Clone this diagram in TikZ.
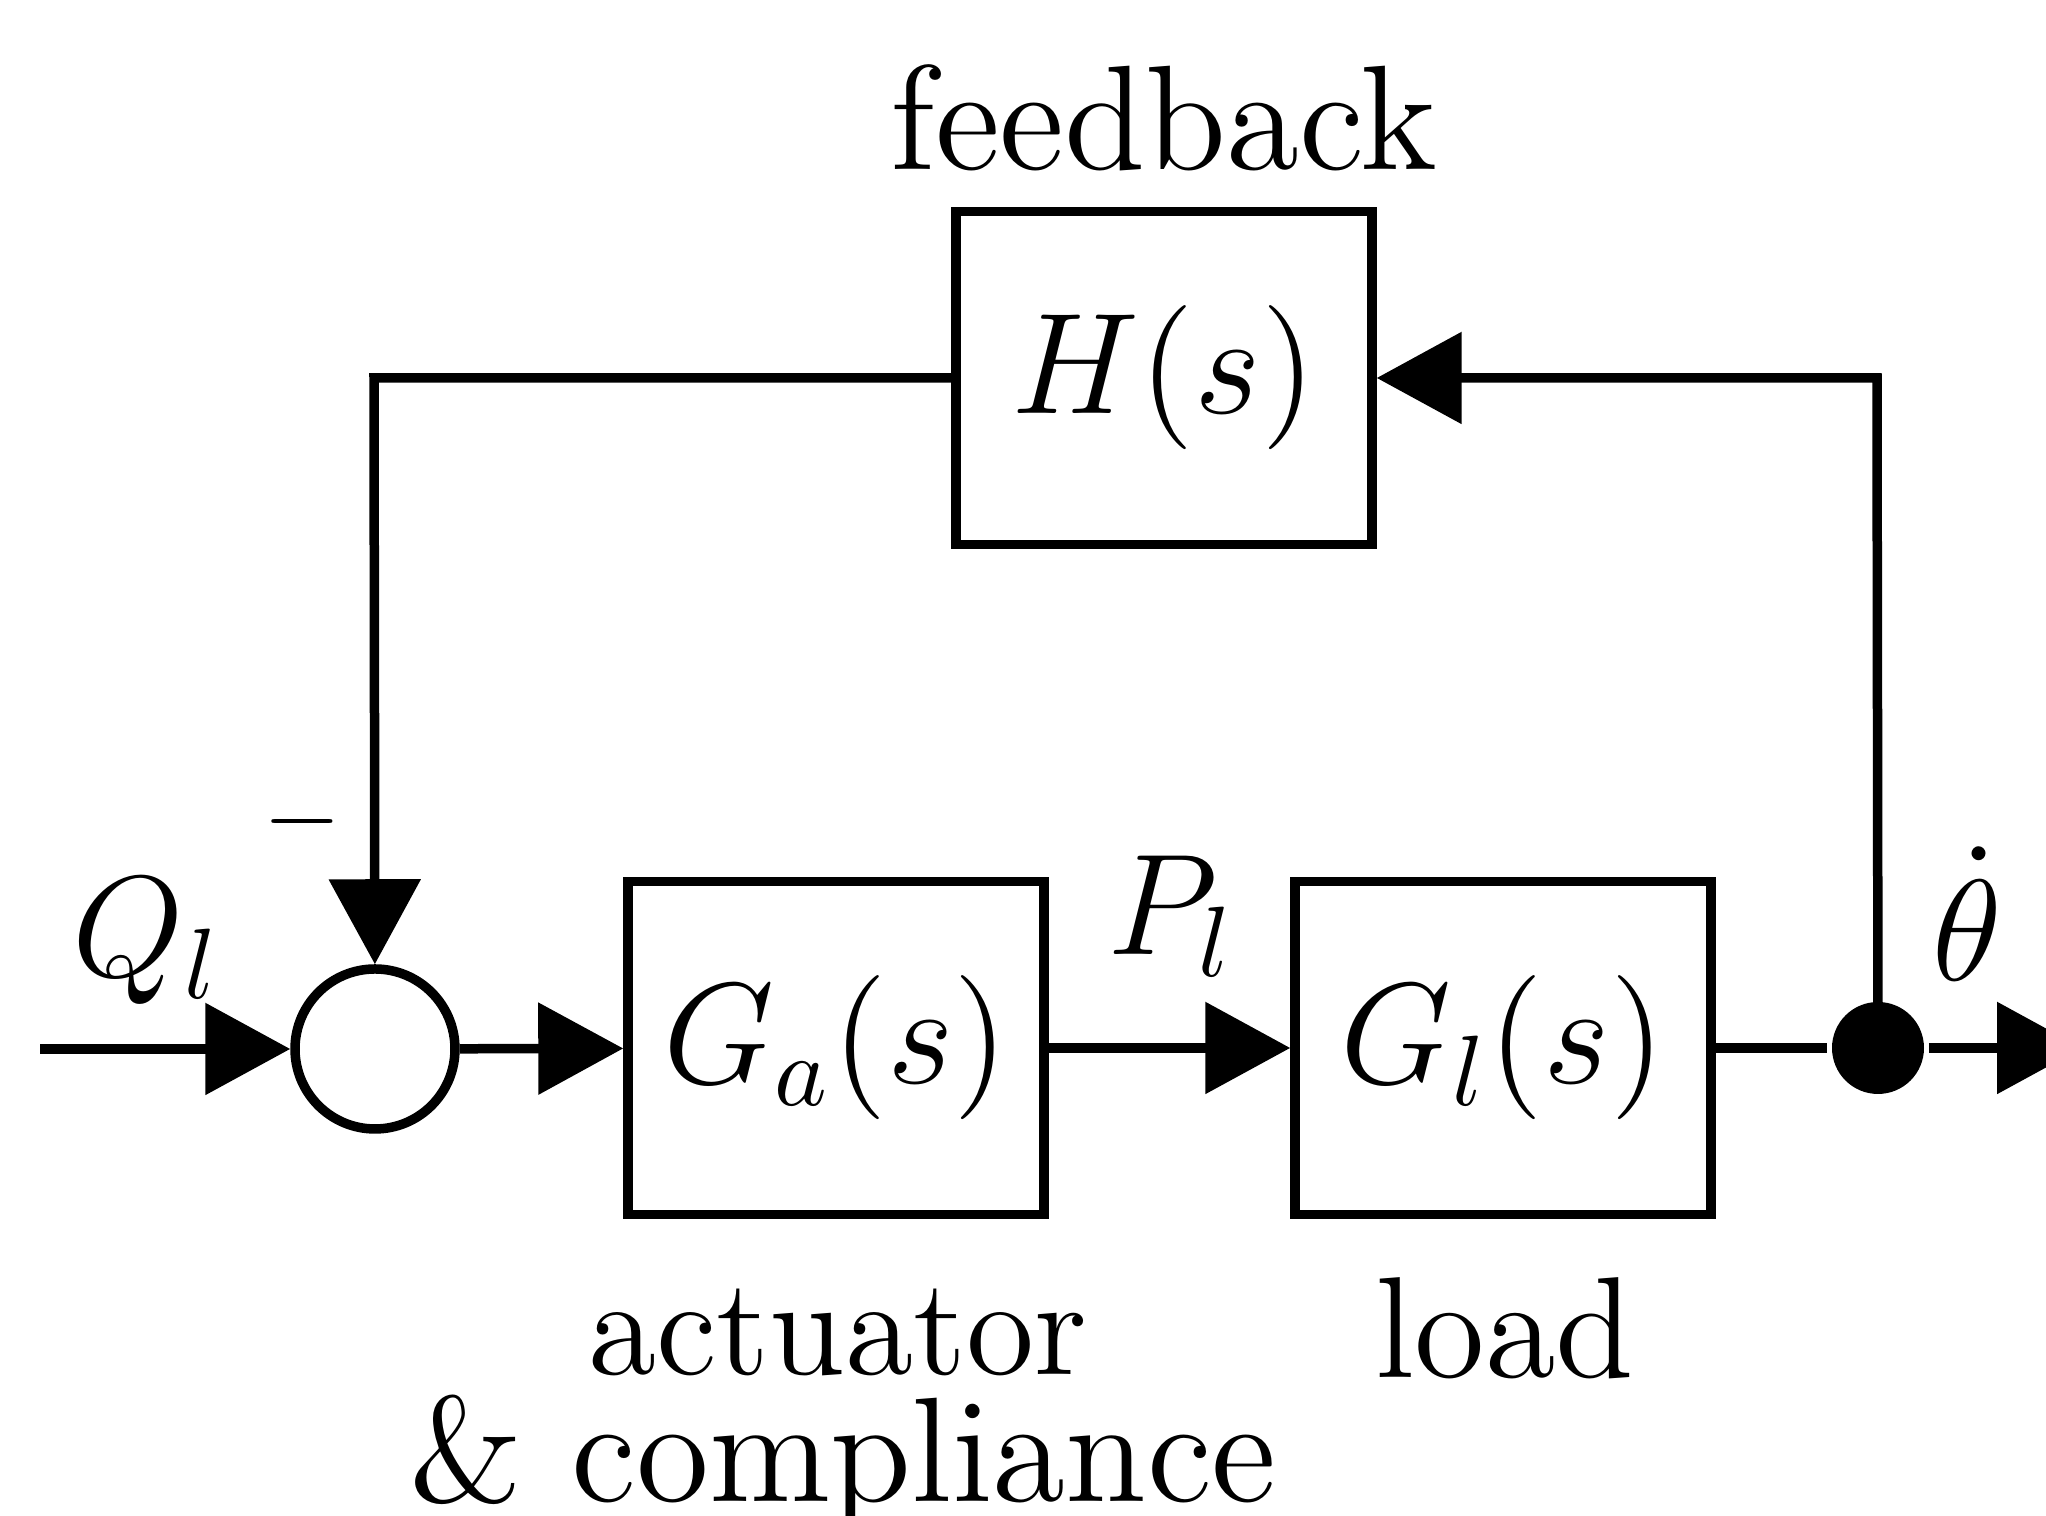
\documentclass[tikz,border=0pt]{standalone}
\usepackage{fontspec}
\usetikzlibrary{arrows.meta}
\begin{document}
\begin{tikzpicture}[x=0.1pt,y=-0.1pt, line width=0.95pt,
  block/.style={draw, minimum width=41.6pt, minimum height=33.3pt, inner sep=0pt,
    font=\fontsize{14.4}{17}\selectfont},
  sumnode/.style={draw, circle, minimum size=16pt, inner sep=0pt},
  junction/.style={fill, circle, minimum size=9.2pt, inner sep=0pt},
  lbl/.style={inner sep=0pt, anchor=base, font=\fontsize{14.4}{17}\selectfont},
  sig/.style={-{Triangle[length=8.5pt,width=9pt]}},
]
\clip (0,0) rectangle (2046,1516);

% blocks
\node[sumnode] (sum) at (375,1049) {};
\node[block] (ga) at (836,1048) {$G_a(s)$};
\node[block] (gl) at (1503,1048) {$G_l(s)$};
\node[block] (h) at (1164,378) {$H(s)$};
\node[junction] (jn) at (1878,1048) {};

% free ends and corners
\coordinate (in) at (40,1049);
\coordinate (out) at (2082,1048);
\coordinate (tr) at (1877,378);
\coordinate (tl) at (374,378);

% forward path
\draw[sig] (in) -- (sum);
\draw[sig] (sum) -- (ga);
\draw[sig] (ga) -- (gl);
\draw (gl) -- (jn);
\draw[sig] (jn) -- (out);

% feedback path
\draw[sig] (jn.center) -- (tr) -- (h);
\draw[sig] (h) -- (tl) -- (sum);

% labels
\node[lbl, font=\fontsize{14.9}{17}\selectfont] (fb) at (1164,170) {feedback};
\node[lbl, font=\fontsize{13.9}{17}\selectfont] (act) at (838,1375) {actuator};
\node[lbl, font=\fontsize{14.9}{17}\selectfont] (comp) at (843,1502) {\& compliance};
\node[lbl] (ld) at (1505,1378) {load};
\node[lbl, anchor=base west] (ql) at (68,977) {$Q_l$};
\node[lbl, anchor=base west] (pl) at (1103,955) {$P_l$};
\node[lbl, anchor=base west] (th) at (1928,981) {$\dot\theta$};
\node[lbl, anchor=center] (minus) at (302,822) {$\scriptstyle -$};
\end{tikzpicture}
\end{document}
